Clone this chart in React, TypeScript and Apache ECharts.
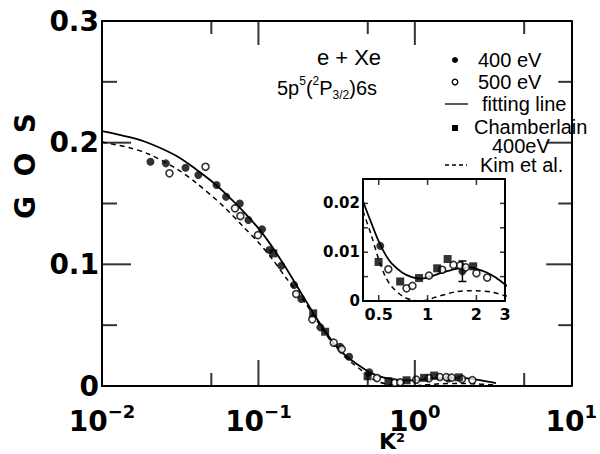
import React, { useEffect, useRef } from 'react';
import * as echarts from 'echarts';

// ---- Curves (K², GOS) ----
const fitK2 = [0.01, 0.015, 0.02, 0.03, 0.04, 0.05, 0.06, 0.08, 0.1, 0.12, 0.15, 0.2, 0.25, 0.3, 0.35, 0.4, 0.45, 0.5, 0.55, 0.6, 0.7, 0.8, 0.9, 1.0, 1.2, 1.5, 1.8, 2.0, 2.3, 2.6, 3.0, 3.3];
const fitGOS = [0.2095, 0.2045, 0.1995, 0.189, 0.178, 0.1685, 0.1595, 0.1435, 0.1295, 0.116, 0.097, 0.0705, 0.0505, 0.036, 0.0265, 0.0205, 0.016, 0.0122, 0.0095, 0.0077, 0.0058, 0.0049, 0.0046, 0.0048, 0.0057, 0.0066, 0.0069, 0.0066, 0.0059, 0.0049, 0.0034, 0.0024];

const kimK2 = [0.01, 0.015, 0.02, 0.03, 0.04, 0.06, 0.08, 0.1, 0.12, 0.15, 0.2, 0.25, 0.3, 0.35, 0.4, 0.45, 0.5, 0.55, 0.6, 0.7, 0.8, 0.9, 1.0, 1.1, 1.3, 1.5, 1.8, 2.0, 2.5, 3.0, 3.3];
const kimGOS = [0.2005, 0.1958, 0.1905, 0.1785, 0.167, 0.1475, 0.131, 0.118, 0.106, 0.089, 0.068, 0.049, 0.0345, 0.025, 0.0185, 0.0135, 0.0085, 0.005, 0.003, 0.001, 0.0002, 0.0, 0.0002, 0.0007, 0.0014, 0.0019, 0.0021, 0.0021, 0.0018, 0.0011, 0.0008];

// ---- Measured points ----
const e400K2 = [0.0204, 0.0256, 0.0342, 0.0413, 0.054, 0.0621, 0.076, 0.0863, 0.1055, 0.1175, 0.14, 0.169, 0.188, 0.249, 0.333, 0.38, 0.511, 1.64];
const e400GOS = [0.1843, 0.183, 0.1794, 0.1734, 0.1652, 0.1555, 0.15, 0.1364, 0.1288, 0.1118, 0.0988, 0.083, 0.0715, 0.0482, 0.0323, 0.024, 0.0113, 0.0061];

const e500K2 = [0.027, 0.0459, 0.0708, 0.0767, 0.0993, 0.1744, 0.221, 0.303, 0.341, 0.573, 0.742, 0.807, 1.02, 1.23, 1.445, 1.59, 1.72, 2.0, 2.33];
const e500GOS = [0.1748, 0.1802, 0.146, 0.1397, 0.124, 0.0756, 0.0548, 0.0356, 0.0302, 0.0065, 0.0026, 0.0031, 0.0052, 0.0064, 0.0074, 0.0073, 0.0069, 0.0057, 0.0048];

const chamK2 = [0.1245, 0.224, 0.267, 0.499, 0.678, 0.886, 1.146, 1.329, 1.91];
const chamGOS = [0.109, 0.0597, 0.0446, 0.008, 0.004, 0.0047, 0.0067, 0.0086, 0.0071];

// error bar (400 eV point)
const errK2 = [1.64];
const errLow = [0.004];
const errHigh = [0.0082];

// ---- Ticks / labels ----
const mainXExponents = ['−2', '−1', '0', '1'];
const mainXMajorTicks = [0.1, 1];
const mainXMinorTicks = [0.05, 0.5, 5];
const mainYMajorTicks = [0.1, 0.2];
const mainYMinorTicks = [0.05, 0.15, 0.25];
const insetXTicks = [0.5, 1, 2, 3];
const insetXLabels = ['0.5', '1', '2', '3'];
const insetYTicks = [0.005, 0.01, 0.015, 0.02];

const zip = (xs: number[], ys: number[]) => xs.map((x, i) => [x, ys[i]]);
const insetRange = (pts: number[][]) => pts.filter((p) => p[0] >= 0.3 && p[0] <= 3.5);

const BLACK = '#000';
const DV = 'DejaVu Sans';
const LS = 'Liberation Sans';

export default function App() {
  const ref = useRef<HTMLDivElement>(null);
  useEffect(() => {
    document.body.style.margin = '0';
    const chart = echarts.init(ref.current!, null, { renderer: 'svg' });

    const fit = zip(fitK2, fitGOS);
    const kim = zip(kimK2, kimGOS);
    const p400 = zip(e400K2, e400GOS);
    const p500 = zip(e500K2, e500GOS);
    const pCham = zip(chamK2, chamGOS);

    const lineSolid = { color: BLACK, width: 1.8 };
    const lineDash = { color: BLACK, width: 1.5, type: [5, 4] };

    const mk = (name: string, data: number[][], kind: string, xi: number, yi: number) => {
      const base: any = { type: 'scatter', name, data, xAxisIndex: xi, yAxisIndex: yi, z: 4 };
      if (kind === 'filled') {
        base.symbol = 'circle'; base.symbolSize = 8; base.itemStyle = { color: BLACK };
      } else if (kind === 'open') {
        base.symbol = 'circle'; base.symbolSize = 7; base.itemStyle = { color: '#fff', borderColor: BLACK, borderWidth: 1.6 };
      } else {
        base.symbol = 'rect'; base.symbolSize = 8; base.itemStyle = { color: BLACK };
      }
      return base;
    };

    const ln = (data: number[][], style: any, xi: number, yi: number) => ({
      type: 'line', data, xAxisIndex: xi, yAxisIndex: yi, showSymbol: false, smooth: 0.3,
      lineStyle: style, z: 3,
    });

    // tick marks drawn as rectangular symbols anchored on the axes
    const tickMarks = (data: number[][], size: number[], offset: number[], xi: number, yi: number) => ({
      type: 'scatter', data, xAxisIndex: xi, yAxisIndex: yi, symbol: 'rect', symbolSize: size,
      symbolOffset: offset, itemStyle: { color: BLACK }, clip: false, z: 6, silent: true,
    });

    const xLabelRich = {
      b: { fontSize: 28, fontWeight: 'bold', fontFamily: DV, color: BLACK, lineHeight: 30, padding: [8, 0, 0, 0] },
      s: { fontSize: 18, fontWeight: 'bold', fontFamily: DV, color: BLACK, verticalAlign: 'top', lineHeight: 18 },
    };

    const frameLine = { show: true, onZero: false, lineStyle: { color: BLACK, width: 2 } };
    const noTick = { show: false };

    const option: any = {
      animation: false,
      backgroundColor: '#fff',
      grid: [
        { left: 102, right: 8, top: 21, bottom: 68 },
        { left: 363, right: 95, top: 179, bottom: 153 },
      ],
      xAxis: [
        {
          type: 'log', gridIndex: 0, position: 'bottom', min: 0.01, max: 10,
          axisLine: frameLine, axisTick: noTick,
          axisLabel: {
            margin: 16,
            formatter: (v: number) => {
              const idx = Math.round(Math.log10(v)) + 2;
              return `{b|10}{s|${mainXExponents[idx]}}`;
            },
            rich: xLabelRich,
          },
          splitLine: { show: false },
        },
        {
          type: 'log', gridIndex: 0, position: 'top', min: 0.01, max: 10,
          axisLine: frameLine, axisTick: noTick, axisLabel: { show: false }, splitLine: { show: false },
        },
        {
          type: 'log', gridIndex: 1, position: 'bottom', min: 0.4, max: 3,
          axisLine: frameLine, axisTick: noTick, axisLabel: { show: false }, splitLine: { show: false },
        },
        {
          type: 'log', gridIndex: 1, position: 'top', min: 0.4, max: 3,
          axisLine: frameLine, axisTick: noTick, axisLabel: { show: false }, splitLine: { show: false },
        },
      ],
      yAxis: [
        {
          type: 'value', gridIndex: 0, position: 'left', min: 0, max: 0.3, interval: 0.1,
          axisLine: frameLine, axisTick: noTick,
          axisLabel: {
            margin: 3, color: BLACK, fontSize: 28, fontWeight: 'bold', fontFamily: DV,
            formatter: (v: number) => (v === 0 ? '0' : v.toFixed(1)),
          },
          splitLine: { show: false },
        },
        {
          type: 'value', gridIndex: 0, position: 'right', min: 0, max: 0.3, interval: 0.1,
          axisLine: frameLine, axisTick: noTick, axisLabel: { show: false }, splitLine: { show: false },
        },
        {
          type: 'value', gridIndex: 1, position: 'left', min: 0, max: 0.025, interval: 0.005,
          axisLine: frameLine, axisTick: noTick,
          axisLabel: {
            margin: 3, color: BLACK, fontSize: 15, fontWeight: 'bold', fontFamily: DV,
            formatter: (v: number) => {
              const h = v * 100;
              if (Math.abs(h - Math.round(h)) > 1e-6) return '';
              return v === 0 ? '0' : v.toFixed(2);
            },
          },
          splitLine: { show: false },
        },
        {
          type: 'value', gridIndex: 1, position: 'right', min: 0, max: 0.025, interval: 0.005,
          axisLine: frameLine, axisTick: noTick, axisLabel: { show: false }, splitLine: { show: false },
        },
      ],
      series: [
        ln(fit, lineSolid, 0, 0),
        ln(kim, lineDash, 0, 0),
        mk('400 eV', p400, 'filled', 0, 0),
        mk('500 eV', p500, 'open', 0, 0),
        mk('Chamberlain', pCham, 'square', 0, 0),
        ln(insetRange(fit), lineSolid, 2, 2),
        ln(insetRange(kim), lineDash, 2, 2),
        mk('400 eV inset', insetRange(p400), 'filled', 2, 2),
        mk('500 eV inset', insetRange(p500), 'open', 2, 2),
        mk('Chamberlain inset', insetRange(pCham), 'square', 2, 2),
        // main plot ticks: bottom / top (x), left / right (y)
        tickMarks(mainXMajorTicks.map((v) => [v, 0]), [2, 26], [0, -13], 0, 0),
        tickMarks(mainXMajorTicks.map((v) => [v, 0.3]), [2, 24], [0, 12], 0, 0),
        tickMarks(mainXMinorTicks.map((v) => [v, 0]), [2, 13], [0, -6.5], 0, 0),
        tickMarks(mainXMinorTicks.map((v) => [v, 0.3]), [2, 13], [0, 6.5], 0, 0),
        tickMarks(mainYMajorTicks.map((v) => [0.01, v]), [29, 2], [14.5, 0], 0, 0),
        tickMarks(mainYMajorTicks.map((v) => [10, v]), [25, 2], [-12.5, 0], 0, 0),
        tickMarks(mainYMinorTicks.map((v) => [0.01, v]), [15, 2], [7.5, 0], 0, 0),
        tickMarks(mainYMinorTicks.map((v) => [10, v]), [13, 2], [-6.5, 0], 0, 0),
        // inset ticks
        tickMarks(insetXTicks.slice(0, 3).map((v) => [v, 0]), [1.5, 6], [0, -3], 2, 2),
        tickMarks(insetXTicks.slice(0, 3).map((v) => [v, 0.025]), [1.5, 6], [0, 3], 2, 2),
        tickMarks(insetYTicks.map((v) => [0.4, v]), [5, 1.5], [2.5, 0], 2, 2),
        tickMarks(insetYTicks.map((v) => [3, v]), [5, 1.5], [-2.5, 0], 2, 2),
        {
          type: 'custom', xAxisIndex: 2, yAxisIndex: 2, z: 5, clip: false,
          data: insetXTicks.map((v) => [v, 0]),
          renderItem: (params: any, api: any) => {
            const b = api.coord([api.value(0), 0]);
            return {
              type: 'text',
              style: {
                text: insetXLabels[params.dataIndex], x: b[0], y: b[1] + 5,
                align: 'center', verticalAlign: 'top', fill: BLACK,
                fontSize: 16, fontWeight: 'bold', fontFamily: DV,
              },
            };
          },
        },
        {
          type: 'custom', xAxisIndex: 2, yAxisIndex: 2, z: 5,
          data: errK2.map((k, i) => [k, errLow[i], errHigh[i]]),
          renderItem: (params: any, api: any) => {
            const lo = api.coord([api.value(0), api.value(1)]);
            const hi = api.coord([api.value(0), api.value(2)]);
            const st = { stroke: BLACK, lineWidth: 1.5 };
            return {
              type: 'group',
              children: [
                { type: 'line', shape: { x1: lo[0], y1: lo[1], x2: hi[0], y2: hi[1] }, style: st },
                { type: 'line', shape: { x1: lo[0] - 4, y1: lo[1], x2: lo[0] + 4, y2: lo[1] }, style: st },
                { type: 'line', shape: { x1: hi[0] - 4, y1: hi[1], x2: hi[0] + 4, y2: hi[1] }, style: st },
              ],
            };
          },
        },
      ],
      graphic: [
        {
          type: 'text', x: 25, y: 166, rotation: Math.PI / 2,
          style: { text: 'G  O  S', align: 'center', verticalAlign: 'middle', fill: BLACK, fontSize: 28, fontWeight: 'bold', fontFamily: DV },
        },
        {
          type: 'text', x: 392, y: 441,
          style: {
            text: '{k|K}{s|2}', align: 'center', verticalAlign: 'middle',
            rich: {
              k: { fontSize: 22, fontWeight: 'bold', fontFamily: DV, color: BLACK, lineHeight: 20 },
              s: { fontSize: 13, fontWeight: 'bold', fontFamily: DV, color: BLACK, verticalAlign: 'top', lineHeight: 12 },
            },
          },
        },
        {
          type: 'text', x: 349, y: 57,
          style: { text: 'e + Xe', align: 'center', verticalAlign: 'middle', fill: BLACK, fontSize: 22, fontFamily: LS },
        },
        {
          type: 'text', x: 327, y: 88,
          style: {
            text: '{n|5p}{sup|5}{n|(}{sup|2}{n|P}{sub|3/2}{n|)6s}', align: 'center', verticalAlign: 'middle',
            rich: {
              n: { fontSize: 20, fontFamily: LS, color: BLACK, lineHeight: 26 },
              sup: { fontSize: 12, fontFamily: LS, color: BLACK, verticalAlign: 'top', lineHeight: 13 },
              sub: { fontSize: 12, fontFamily: LS, color: BLACK, verticalAlign: 'bottom', lineHeight: 13 },
            },
          },
        },
        { type: 'circle', shape: { cx: 455, cy: 60, r: 3 }, style: { fill: BLACK } },
        { type: 'circle', shape: { cx: 455, cy: 82, r: 2.8 }, style: { fill: '#fff', stroke: BLACK, lineWidth: 1.3 } },
        { type: 'line', shape: { x1: 445, y1: 104, x2: 468, y2: 104 }, style: { stroke: BLACK, lineWidth: 1.3 } },
        { type: 'rect', shape: { x: 452, y: 125, width: 6, height: 6 }, style: { fill: BLACK } },
        { type: 'line', shape: { x1: 445, y1: 165, x2: 467, y2: 165 }, style: { stroke: BLACK, lineWidth: 1.3, lineDash: [4, 3] } },
        { type: 'text', x: 478, y: 60, style: { text: '400 eV', verticalAlign: 'middle', fill: BLACK, fontSize: 20, fontFamily: LS } },
        { type: 'text', x: 478, y: 82, style: { text: '500 eV', verticalAlign: 'middle', fill: BLACK, fontSize: 20, fontFamily: LS } },
        { type: 'text', x: 482, y: 104, style: { text: 'fitting line', verticalAlign: 'middle', fill: BLACK, fontSize: 20, fontFamily: LS } },
        { type: 'text', x: 474, y: 127, style: { text: 'Chamberlain', verticalAlign: 'middle', fill: BLACK, fontSize: 20, fontFamily: LS } },
        { type: 'text', x: 492, y: 146, style: { text: '400eV', verticalAlign: 'middle', fill: BLACK, fontSize: 20, fontFamily: LS } },
        { type: 'text', x: 480, y: 165, style: { text: 'Kim et al.', verticalAlign: 'middle', fill: BLACK, fontSize: 20, fontFamily: LS } },
      ],
    };

    chart.setOption(option);
    return () => chart.dispose();
  }, []);

  return <div ref={ref} style={{ width: 600, height: 454 }} />;
}
